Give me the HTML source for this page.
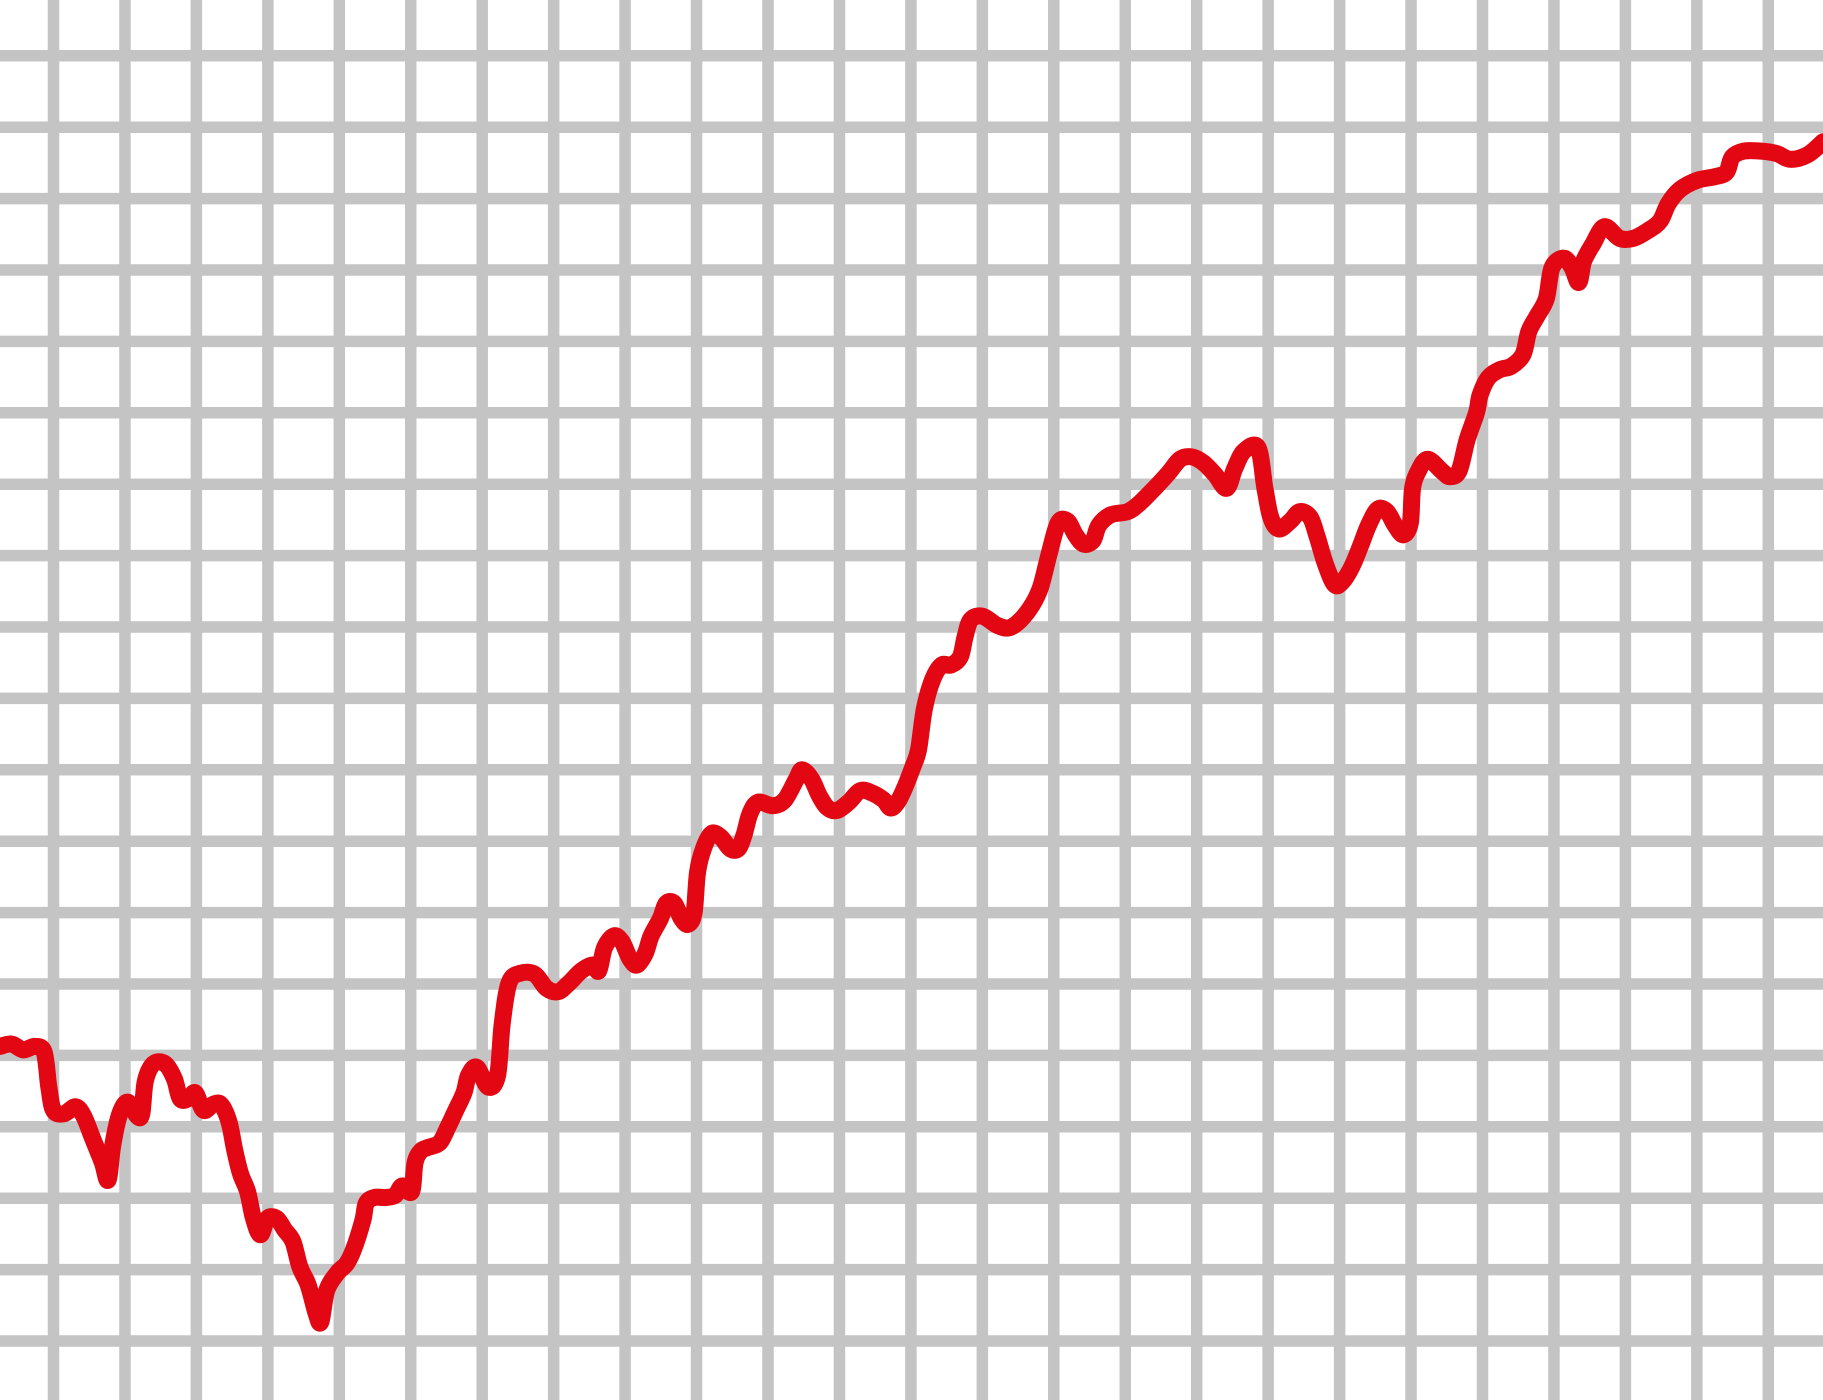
<!DOCTYPE html>
<html>
<head>
<meta charset="utf-8">
<style>
  html, body { margin: 0; padding: 0; background: #fff; }
  svg { display: block; }
</style>
</head>
<body>
<svg id="chart" width="1823" height="1400" viewBox="0 0 1823 1400" xmlns="http://www.w3.org/2000/svg">
  <rect x="0" y="0" width="1823" height="1400" fill="#ffffff"/>
  <g id="grid"></g>
  <path id="series" fill="none" stroke="#e30613" stroke-width="17" stroke-linejoin="round" stroke-linecap="round"/>
</svg>
<script>
const timeValues = [0,10,20,30,38,42,46,55,65,72,80,88,93,97,103,110,118,122,125,132,142,150,155,162,168,175,183,190,197,202,207,213,218,224,230,238,245,252,258,265,272,276,281,290,298,304,312,315,322,332,340,346,354,357,362,368,378,385,392,399,403,410,420,428,432,438,448,460,470,480,490,500,510,515,520,528,535,542,548,555,560,568,573,580,586,592,597,600,605,612,620,628,635,640,645,652,665,675,685,690,698,705,712,720,730,740,750,760,766,772,778,785,790,795,802,810,818,826,830,835,845,858,868,878,888,895,902,910,918,925,932,940,945,955,970,980,993,1005,1015,1025,1035,1045,1055,1062,1070,1082,1088,1093,1100,1110,1118,1127,1133,1140,1148,1155,1163,1170,1177,1185,1193,1200,1207,1213,1215,1220,1228,1240,1247,1255,1262,1270,1273,1280,1290,1300,1310,1315,1322,1330,1335,1345,1352,1358,1362,1370,1380,1393,1405,1418,1428,1435,1445,1460,1475,1485,1490,1500,1515,1528,1540,1555,1568];
const levels = [900,898,903,900,905,935,955,958,952,960,980,1000,1015,985,958,948,960,958,930,915,915,928,945,945,940,955,950,950,965,990,1010,1025,1048,1062,1048,1048,1058,1068,1090,1105,1130,1137,1110,1095,1087,1075,1050,1035,1030,1030,1028,1020,1025,1000,990,987,983,970,955,940,925,918,935,925,880,845,837,838,850,853,845,835,830,835,815,805,810,825,830,820,805,790,777,777,790,795,785,750,730,717,720,730,730,718,700,690,693,688,670,662,670,685,695,697,690,680,682,688,695,690,678,660,645,610,585,572,572,565,548,533,530,538,540,533,520,505,478,450,448,460,468,465,452,443,440,433,420,407,395,393,398,408,420,403,388,385,420,445,455,448,440,445,462,485,503,500,487,470,452,438,440,452,460,450,420,405,395,405,410,405,378,355,340,325,318,315,305,285,272,257,230,222,230,243,225,210,195,205,205,198,190,175,163,155,152,148,135,130,130,132,137,133,122].map(d => 1204 - d);
const gridXTicks = [0,1,2,3,4,5,6,7,8,9,10,11,12,13,14,15,16,17,18,19,20,21,22,23,24,25];
const gridYTicks = [0,1,2,3,4,5,6,7,8,9,10,11,12,13,14,15,16,17,18,19,20];

const S = 1823 / 1568;
function xScale(t) { return t * S; }
function yScale(v) { return (1204 - v) * S; }
function gridX(i) { return 53.5 + i * 71.45; }
function gridY(i) { return 55.8 + i * 71.4; }

const svgNS = "http://www.w3.org/2000/svg";
const grid = document.getElementById('grid');
gridXTicks.forEach(i => {
  const x = gridX(i);
  if (x > 1830) return;
  const l = document.createElementNS(svgNS, 'line');
  
  
  l.setAttribute('x1', x); l.setAttribute('x2', x);
  l.setAttribute('y1', 0); l.setAttribute('y2', 1400);
  l.setAttribute('stroke', '#c4c4c4'); l.setAttribute('stroke-width', 11.5);
  grid.appendChild(l);
});
gridYTicks.forEach(i => {
  const y = gridY(i);
  if (y > 1410) return;
  const l = document.createElementNS(svgNS, 'line');
  
  
  l.setAttribute('x1', 0); l.setAttribute('x2', 1823);
  l.setAttribute('y1', y); l.setAttribute('y2', y);
  l.setAttribute('stroke', '#c4c4c4'); l.setAttribute('stroke-width', 11.5);
  grid.appendChild(l);
});

const pts = timeValues.map((t, i) => [xScale(t), yScale(levels[i])]);
let d = 'M' + pts[0][0].toFixed(1) + ',' + pts[0][1].toFixed(1);
for (let i = 0; i < pts.length - 1; i++) {
  const p0 = pts[Math.max(0, i - 1)], p1 = pts[i], p2 = pts[i + 1], p3 = pts[Math.min(pts.length - 1, i + 2)];
  const c1x = p1[0] + (p2[0] - p0[0]) / 6, c1y = p1[1] + (p2[1] - p0[1]) / 6;
  const c2x = p2[0] - (p3[0] - p1[0]) / 6, c2y = p2[1] - (p3[1] - p1[1]) / 6;
  d += ' C' + c1x.toFixed(1) + ',' + c1y.toFixed(1) + ' ' + c2x.toFixed(1) + ',' + c2y.toFixed(1) + ' ' + p2[0].toFixed(1) + ',' + p2[1].toFixed(1);
}
document.getElementById('series').setAttribute('d', d);
</script>
</body>
</html>
